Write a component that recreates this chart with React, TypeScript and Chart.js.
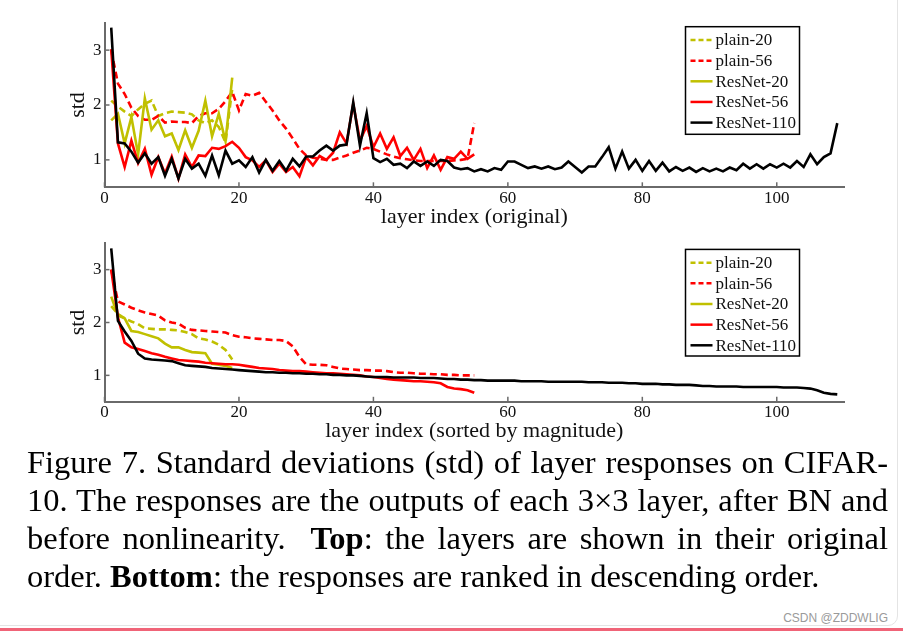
import React, { useEffect, useRef } from "react";
import { Chart, registerables } from "chart.js";

Chart.register(...registerables);

// ---------- data ----------
const seriesNames = ["plain-20", "plain-56", "ResNet-20", "ResNet-56", "ResNet-110"];
const xTickValues = [0, 20, 40, 60, 80, 100];
const yTickValues = [1, 2, 3];

// top panel: layer index (original)
const plain20Original = [2.08, 1.97, 1.88, 1.8, 1.92, 2.02, 2.08, 1.8, 1.85, 1.88, 1.87, 1.86, 1.83, 1.72, 1.67, 1.72, 1.6, 1.32, 2.3];
const plain56Original = [
  3.0, 2.39, 2.2, 1.95, 1.8, 1.73, 1.73, 1.8, 1.68, 1.7, 1.69, 1.69, 1.67, 1.8, 1.85, 1.85, 1.93, 2.07, 2.24, 1.9,
  2.2, 2.17, 2.22, 2.06, 1.9, 1.72, 1.57, 1.39, 1.2, 1.08, 1.04, 1.02, 1.0, 1.0, 1.04, 1.08, 1.13, 1.17, 1.22, 1.2,
  1.15, 1.1, 1.06, 1.03, 1.01, 0.99, 0.98, 0.98, 0.98, 0.98, 0.98, 0.99, 1.0, 1.02, 1.67,
];
const resnet20Original = [1.72, 1.84, 1.3, 1.78, 1.1, 2.12, 1.55, 1.72, 1.43, 1.48, 1.18, 1.54, 1.22, 1.53, 2.08, 1.43, 1.84, 1.34, 2.5];
const resnet56Original = [
  3.02, 1.3, 0.87, 1.35, 0.94, 1.2, 0.73, 1.05, 0.75, 1.06, 0.66, 1.1, 0.87, 1.08, 1.07, 1.22, 1.2, 1.25, 1.33, 1.22,
  1.05, 0.99, 0.87, 0.99, 0.78, 0.93, 0.78, 0.87, 0.7, 1.05, 0.9, 1.07, 1.0, 1.13, 1.5, 1.3, 2.02, 1.35, 1.62, 1.23,
  1.48, 1.2, 1.41, 1.07, 1.22, 1.0, 1.2, 0.85, 1.08, 0.82, 1.05, 1.02, 1.15, 1.02, 1.1,
];
const resnet110Original = [
  3.41, 1.32, 1.3, 1.15, 0.95, 1.12, 0.93, 1.05, 0.71, 1.02, 0.66, 1.02, 0.84, 0.93, 0.71, 1.08, 0.72, 1.17, 0.93, 0.99,
  0.87, 1.05, 0.77, 1.0, 0.8, 0.98, 0.8, 1.02, 0.88, 1.06, 1.06, 1.17, 1.26, 1.17, 1.26, 1.28, 2.05, 1.26, 1.85, 1.03,
  0.96, 1.02, 0.91, 0.93, 0.85, 0.97, 0.89, 0.97, 0.89, 1.0, 0.98, 0.86, 0.83, 0.85, 0.79, 0.83, 0.79, 0.85, 0.82, 0.97,
  0.97, 0.91, 0.85, 0.88, 0.84, 0.88, 0.83, 0.86, 0.97, 0.87, 0.77, 0.88, 0.88, 1.05, 1.23, 0.84, 1.15, 0.84, 1.0, 0.8,
  0.98, 0.8, 0.95, 0.79, 0.87, 0.8, 0.86, 0.78, 0.85, 0.79, 0.84, 0.79, 0.86, 0.81, 0.93, 0.84, 0.92, 0.84, 0.92, 0.86,
  0.93, 0.86, 0.98, 0.87, 1.1, 0.92, 1.05, 1.12, 1.67,
];

// bottom panel: layer index (sorted by magnitude)
const plain20Sorted = [2.31, 2.16, 2.08, 2.02, 1.97, 1.89, 1.88, 1.87, 1.87, 1.86, 1.85, 1.82, 1.78, 1.7, 1.68, 1.64, 1.58, 1.48, 1.3];
const plain56Sorted = [
  3.0, 2.4, 2.34, 2.28, 2.23, 2.19, 2.16, 2.13, 2.04, 2.0, 1.98, 1.9, 1.86, 1.85, 1.84, 1.83, 1.82, 1.81, 1.76, 1.73,
  1.72, 1.7, 1.69, 1.68, 1.67, 1.67, 1.65, 1.55, 1.35, 1.21, 1.2, 1.2, 1.19, 1.16, 1.13, 1.12, 1.11, 1.1, 1.1, 1.09,
  1.09, 1.08, 1.06, 1.05, 1.05, 1.04, 1.03, 1.03, 1.02, 1.02, 1.01, 1.01, 1.0, 1.0, 1.0,
];
const resnet20Sorted = [2.49, 2.13, 2.08, 1.84, 1.82, 1.78, 1.74, 1.7, 1.6, 1.53, 1.53, 1.48, 1.44, 1.43, 1.42, 1.22, 1.2, 1.18, 1.14];
const resnet56Sorted = [
  3.0, 2.1, 1.62, 1.53, 1.5, 1.46, 1.42, 1.39, 1.35, 1.32, 1.29, 1.28, 1.27, 1.26, 1.24, 1.23, 1.22, 1.21, 1.21, 1.2,
  1.18, 1.16, 1.14, 1.13, 1.12, 1.1, 1.09, 1.08, 1.08, 1.07, 1.06, 1.05, 1.04, 1.04, 1.03, 1.02, 1.01, 1.0, 0.98, 0.97,
  0.95, 0.93, 0.92, 0.91, 0.9, 0.89, 0.89, 0.88, 0.87, 0.85, 0.78, 0.75, 0.74, 0.72, 0.67,
];
const resnet110Sorted = [
  3.4, 2.03, 1.83, 1.65, 1.41, 1.32, 1.3, 1.29, 1.28, 1.27, 1.23, 1.19, 1.18, 1.17, 1.16, 1.14, 1.13, 1.12, 1.11, 1.1,
  1.09, 1.08, 1.07, 1.06, 1.06, 1.05, 1.05, 1.04, 1.04, 1.03, 1.03, 1.02, 1.02, 1.01, 1.01, 1.0, 1.0, 0.99, 0.98, 0.97,
  0.97, 0.97, 0.96, 0.96, 0.96, 0.96, 0.95, 0.95, 0.95, 0.94, 0.93, 0.93, 0.92, 0.92, 0.91, 0.91, 0.9, 0.9, 0.9, 0.9,
  0.9, 0.89, 0.89, 0.89, 0.89, 0.88, 0.88, 0.88, 0.88, 0.88, 0.88, 0.87, 0.87, 0.87, 0.86, 0.86, 0.86, 0.85, 0.85, 0.84,
  0.84, 0.84, 0.83, 0.83, 0.82, 0.82, 0.82, 0.81, 0.8, 0.8, 0.79, 0.79, 0.79, 0.79, 0.78, 0.78, 0.78, 0.78, 0.78, 0.78,
  0.77, 0.77, 0.77, 0.76, 0.75, 0.72, 0.67, 0.65, 0.64,
];

// ---------- styles ----------
const YELLOW = "rgb(192,192,0)";
const RED = "rgb(255,0,0)";
const BLACK = "#000000";
const seriesColors = [YELLOW, RED, YELLOW, RED, BLACK];
const seriesDashed = [true, true, false, false, false];
const drawOrder = [4, 3, 2, 1, 0];
const AXIS = "#6a6a6a";
const TEXT = "#111111";
const SERIF = '"Liberation Serif", "Times New Roman", Times, serif';

const innerTicksPlugin = {
  id: "innerTicks",
  beforeDatasetsDraw(chart: any) {
    const { ctx, chartArea, scales } = chart;
    ctx.save();
    ctx.strokeStyle = AXIS;
    ctx.lineWidth = 1.5;
    scales.x.ticks.forEach((t: any) => {
      const px = scales.x.getPixelForValue(t.value);
      ctx.beginPath();
      ctx.moveTo(px, chartArea.bottom);
      ctx.lineTo(px, chartArea.bottom - 5);
      ctx.stroke();
    });
    scales.y.ticks.forEach((t: any) => {
      const py = scales.y.getPixelForValue(t.value);
      ctx.beginPath();
      ctx.moveTo(chartArea.left, py);
      ctx.lineTo(chartArea.left + 5, py);
      ctx.stroke();
    });
    ctx.restore();
  },
};

const boxLegendPlugin = {
  id: "boxLegend",
  afterDraw(chart: any, _args: any, opts: any) {
    const { ctx, chartArea } = chart;
    const x0 = chartArea.left + opts.dx;
    const y0 = chartArea.top + opts.dy;
    ctx.save();
    ctx.fillStyle = "#ffffff";
    ctx.fillRect(x0, y0, opts.w, opts.h);
    ctx.strokeStyle = "#000000";
    ctx.lineWidth = 1.5;
    ctx.strokeRect(x0, y0, opts.w, opts.h);
    chart.data.datasets.forEach((ds: any, i: number) => {
      const cy = y0 + opts.firstRow + i * opts.rowGap;
      ctx.beginPath();
      ctx.setLineDash(seriesDashed[i] ? [5, 3] : []);
      ctx.strokeStyle = ds.borderColor;
      ctx.lineWidth = 2.5;
      ctx.moveTo(x0 + 5, cy);
      ctx.lineTo(x0 + 27, cy);
      ctx.stroke();
      ctx.setLineDash([]);
      ctx.fillStyle = TEXT;
      ctx.font = `17px ${SERIF}`;
      ctx.textBaseline = "middle";
      ctx.textAlign = "left";
      ctx.fillText(ds.label, x0 + 30, cy + 1);
    });
    ctx.restore();
  },
};

function makeDatasets(seriesList: number[][]) {
  return seriesList.map((vals, i) => ({
    label: seriesNames[i],
    data: vals.map((v, j) => ({ x: j + 1, y: v })),
    borderColor: seriesColors[i],
    backgroundColor: seriesColors[i],
    borderDash: seriesDashed[i] ? [7, 4] : [],
    borderWidth: 2.6,
    pointRadius: 0,
    tension: 0,
    fill: false,
    order: drawOrder[i],
  }));
}

interface PanelProps {
  series: number[][];
  xTitle: string;
  canvasHeight: number;
  areaTop: number;
  areaBottom: number;
  xTitlePad: number;
  legendDy: number;
  legendH: number;
}

function Panel(p: PanelProps) {
  const ref = useRef<HTMLCanvasElement | null>(null);
  useEffect(() => {
    if (!ref.current) return;
    const chart = new Chart(ref.current, {
      type: "line",
      data: { datasets: makeDatasets(p.series) as any },
      options: {
        responsive: false,
        maintainAspectRatio: false,
        animation: false,
        devicePixelRatio: 1,
        layout: { padding: { left: 0, right: 903 - 844, top: p.areaTop, bottom: 0 } },
        plugins: {
          legend: { display: false },
          tooltip: { enabled: false },
          boxLegend: { dx: 581, dy: p.legendDy, w: 114, h: p.legendH, firstRow: 13.3, rowGap: 20.65 },
        } as any,
        scales: {
          x: {
            type: "linear",
            min: 0,
            max: 110,
            afterBuildTicks: (s: any) => {
              s.ticks = xTickValues.map((v) => ({ value: v }));
            },
            afterFit: (s: any) => {
              s.height = p.canvasHeight - p.areaBottom;
            },
            grid: { display: true, drawOnChartArea: false, drawTicks: false },
            border: { display: true, color: AXIS, width: 2 },
            ticks: { font: { family: SERIF, size: 17 }, color: TEXT, padding: 1, maxRotation: 0, autoSkip: false },
            title: {
              display: true,
              text: p.xTitle,
              font: { family: SERIF, size: 22 },
              color: TEXT,
              padding: { top: 0, bottom: p.xTitlePad },
            },
          },
          y: {
            type: "linear",
            min: 0.5,
            max: 3.5,
            afterBuildTicks: (s: any) => {
              s.ticks = yTickValues.map((v) => ({ value: v }));
            },
            afterFit: (s: any) => {
              s.width = 104.5;
            },
            grid: { display: true, drawOnChartArea: false, drawTicks: false },
            border: { display: true, color: AXIS, width: 2 },
            ticks: { font: { family: SERIF, size: 17 }, color: TEXT, padding: 3 },
            title: {
              display: true,
              text: "std",
              font: { family: SERIF, size: 22 },
              color: TEXT,
              padding: { top: 64.8, bottom: 0 },
            },
          },
        },
      },
      plugins: [innerTicksPlugin, boxLegendPlugin],
    });
    return () => chart.destroy();
  }, []);
  return <canvas ref={ref} width={903} height={p.canvasHeight} style={{ display: "block", width: 903, height: p.canvasHeight }} />;
}

export default function App() {
  return (
    <div style={{ position: "absolute", left: 0, top: 0, width: 903, height: 633, background: "#fff", overflow: "hidden" }}>
      <div
        style={{
          position: "absolute",
          left: -20,
          top: -20,
          width: 918,
          height: 646,
          border: "1px solid #e4e4e4",
          borderRadius: 10,
          boxSizing: "border-box",
        }}
      />
      <div style={{ position: "absolute", left: 0, top: 0 }}>
        <Panel
          series={[plain20Original, plain56Original, resnet20Original, resnet56Original, resnet110Original]}
          xTitle="layer index (original)"
          canvasHeight={232}
          areaTop={22.7}
          areaBottom={187.3}
          xTitlePad={1.8}
          legendDy={4}
          legendH={107.6}
        />
      </div>
      <div style={{ position: "absolute", left: 0, top: 230 }}>
        <Panel
          series={[plain20Sorted, plain56Sorted, resnet20Sorted, resnet56Sorted, resnet110Sorted]}
          xTitle="layer index (sorted by magnitude)"
          canvasHeight={225}
          areaTop={5.5}
          areaBottom={171.8}
          xTitlePad={10.8}
          legendDy={6.2}
          legendH={106.6}
        />
      </div>
      <div
        style={{
          position: "absolute",
          left: 27,
          top: 443,
          width: 861,
          fontFamily: SERIF,
          fontSize: 32.5,
          lineHeight: "38px",
          textAlign: "justify",
          color: "#000",
        }}
      >
        Figure 7. Standard deviations (std) of layer responses on CIFAR-10. The responses are the outputs of each
        3×3 layer, after BN and before nonlinearity.{"\u00a0 "}<b>Top</b>: the layers are shown in their original order.{" "}
        <b>Bottom</b>: the responses are ranked in descending order.
      </div>
      <div
        style={{
          position: "absolute",
          right: 15,
          top: 610,
          fontFamily: '"Liberation Sans", Arial, sans-serif',
          fontSize: 12,
          color: "#9a9a9a",
          lineHeight: "16px",
        }}
      >
        CSDN @ZDDWLIG
      </div>
      <div style={{ position: "absolute", left: 0, top: 628, width: 903, height: 3, background: "#f06478" }} />
    </div>
  );
}
